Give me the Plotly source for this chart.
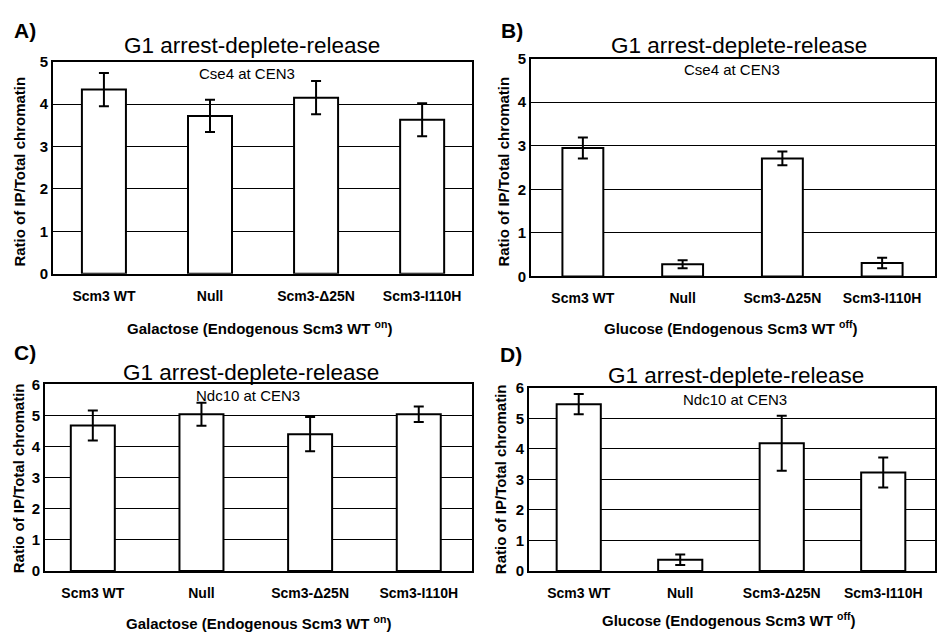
import plotly.graph_objects as go

W, H = 937, 641

categories = ["Scm3 WT", "Null", "Scm3-Δ25N", "Scm3-I110H"]

a_vals = [4.34, 3.72, 4.15, 3.63]
a_err = [0.39, 0.38, 0.39, 0.39]
b_vals = [2.95, 0.28, 2.71, 0.31]
b_err = [0.24, 0.09, 0.16, 0.12]
c_vals = [4.68, 5.04, 4.40, 5.04]
c_err = [0.48, 0.37, 0.55, 0.25]
d_vals = [5.47, 0.37, 4.19, 3.23]
d_err = [0.33, 0.17, 0.90, 0.49]

y_ticks_top = [0, 1, 2, 3, 4, 5]
y_ticks_bottom = [0, 1, 2, 3, 4, 5, 6]

title_text = "G1 arrest-deplete-release"
sub_top = "Cse4 at CEN3"
sub_bottom = "Ndc10 at CEN3"
ytitle = "Ratio of IP/Total chromatin"
xt_gal = "Galactose (Endogenous Scm3 WT <sup>on</sup>)"
xt_glu = "Glucose (Endogenous Scm3 WT <sup>off</sup>)"

FONT = "Liberation Sans, Arial, sans-serif"

def px(x):
    return x / W

def py(y):
    return 1 - y / H

panels = [
    ("A", a_vals, a_err, (53, 472), (272, 54), (-0.48, 3.47), (0, 5), 0.415, y_ticks_top),
    ("B", b_vals, b_err, (531, 935), (274.7, 51), (-0.52, 3.53), (0, 5), 0.41, y_ticks_top),
    ("C", c_vals, c_err, (45, 472), (577.3, 385.7), (-0.44, 3.49), (0, 6), 0.405, y_ticks_bottom),
    ("D", d_vals, d_err, (529, 935), (577.3, 389.3), (-0.49, 3.51), (0, 6), 0.435, y_ticks_bottom),
]

fig = go.Figure()
layout = {}
for i, (name, vals, err, xd, yd, xr, yr, bw, yt) in enumerate(panels):
    n = "" if i == 0 else str(i + 1)
    fig.add_trace(go.Bar(
        x=categories, y=vals, width=bw,
        xaxis="x" + n, yaxis="y" + n,
        marker=dict(color="white", line=dict(color="black", width=2)),
        error_y=dict(type="data", array=err, visible=True, color="black",
                     thickness=2, width=5),
        showlegend=False,
    ))
    layout["xaxis" + n] = dict(
        domain=[px(xd[0]), px(xd[1])], anchor="y" + n,
        range=list(xr), showline=True, linecolor="black", linewidth=2,
        mirror=True, showgrid=False, ticks="", ticklabelstandoff=8,
        tickfont=dict(family=FONT, size=14, color="black", weight="bold"),
        fixedrange=True,
    )
    layout["yaxis" + n] = dict(
        domain=[py(yd[0]), py(yd[1])], anchor="x" + n,
        range=list(yr), tickvals=yt, showline=True, linecolor="black",
        linewidth=2, mirror=True, showgrid=True, gridcolor="black",
        gridwidth=1, zeroline=False, ticks="",
        tickfont=dict(family=FONT, size=15, color="black", weight="bold"),
        fixedrange=True,
    )

ann = []

def add(text, x, y, size, bold=False, angle=0, xanchor="center"):
    ann.append(dict(text=text, x=px(x), y=py(y), xref="paper", yref="paper",
                    xanchor=xanchor, yanchor="middle", showarrow=False,
                    textangle=angle,
                    font=dict(family=FONT, size=size, color="black",
                              weight="bold" if bold else "normal")))

# panel letters
add("A)", 12, 22, 21, True, xanchor="left")
add("B)", 499, 22, 21, True, xanchor="left")
add("C)", 12, 353, 21, True, xanchor="left")
add("D)", 498, 355, 21, True, xanchor="left")
# titles
add(title_text, 252, 38, 22.5)
add(title_text, 739, 37, 22.5)
add(title_text, 251, 373, 22.5)
add(title_text, 736, 376, 22.5)
# subtitles
add(sub_top, 247, 66, 15)
add(sub_top, 732, 62, 15)
add(sub_bottom, 248, 397, 15)
add(sub_bottom, 735, 401, 15)
# y titles
add(ytitle, 20, 167, 15, True, angle=-90)
add(ytitle, 504, 167, 15, True, angle=-90)
add(ytitle, 18, 482, 15, True, angle=-90)
add(ytitle, 500, 483, 15, True, angle=-90)
# x titles
add(xt_gal, 259, 327, 15, True)
add(xt_glu, 730, 327, 15, True)
add(xt_gal, 258, 630, 15, True)
add(xt_glu, 728, 627, 15, True)

fig.update_layout(
    width=W, height=H, margin=dict(l=0, r=0, t=0, b=0),
    paper_bgcolor="white", plot_bgcolor="white",
    annotations=ann, bargap=0.58,
    **layout,
)

fig.write_html("out.html", config={"displayModeBar": False},
               post_script="document.body.style.margin='0px';document.body.style.overflow='hidden';")
